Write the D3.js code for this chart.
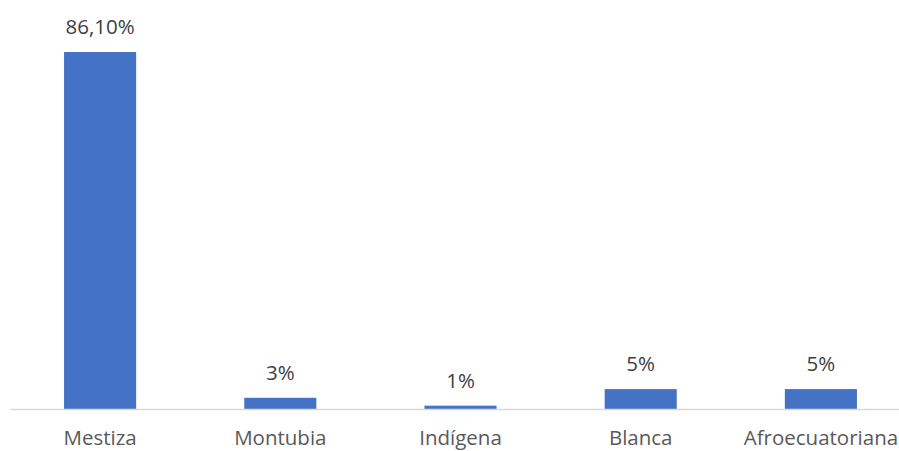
<!DOCTYPE html>
<html>
<head>
<meta charset="utf-8">
<script src="https://cdn.jsdelivr.net/npm/d3@7/dist/d3.min.js"></script>
<style>
  html, body { margin: 0; padding: 0; background: #fff; }
  svg { display: block; }
</style>
</head>
<body>
<svg id="chart" width="899" height="451"></svg>
<script>
const categories = ["Mestiza", "Montubia", "Indígena", "Blanca", "Afroecuatoriana"];
const values = [86.1, 2.7, 0.8, 4.8, 4.8];
const valueLabels = ["86,10%", "3%", "1%", "5%", "5%"];

const svg = d3.select("#chart");
const plotLeft = 10, plotRight = 911, baseY = 409, topY = 52;

const x = d3.scaleBand().domain(categories).range([plotLeft, plotRight]).paddingInner(0.6).paddingOuter(0.3);
const y = d3.scaleLinear().domain([0, 86.1]).range([baseY, topY]);

svg.selectAll("rect.bar").data(values).enter().append("rect")
  .attr("class", "bar")
  .attr("x", (d, i) => x(categories[i]))
  .attr("width", x.bandwidth())
  .attr("y", d => y(d))
  .attr("height", d => baseY - y(d))
  .attr("fill", "#4472C4");

const axis = d3.axisBottom(x).tickSize(0).tickPadding(0);
const gx = svg.append("g").attr("transform", `translate(0,${baseY})`).call(axis);
gx.select(".domain").attr("stroke", "#D9D9D9").attr("stroke-width", 1.5);
gx.selectAll(".tick text")
  .attr("dy", null)
  .attr("y", 36)
  .attr("fill", "#595959")
  .style("font-family", "'Open Sans', sans-serif")
  .style("font-size", "20.5px");

svg.selectAll("text.vlabel").data(values).enter().append("text")
  .attr("class", "vlabel")
  .attr("x", (d, i) => x(categories[i]) + x.bandwidth() / 2)
  .attr("y", d => y(d) - 18)
  .attr("text-anchor", "middle")
  .attr("fill", "#404040")
  .style("font-family", "'Open Sans', sans-serif")
  .style("font-size", "20.5px")
  .text((d, i) => valueLabels[i]);
</script>
</body>
</html>
